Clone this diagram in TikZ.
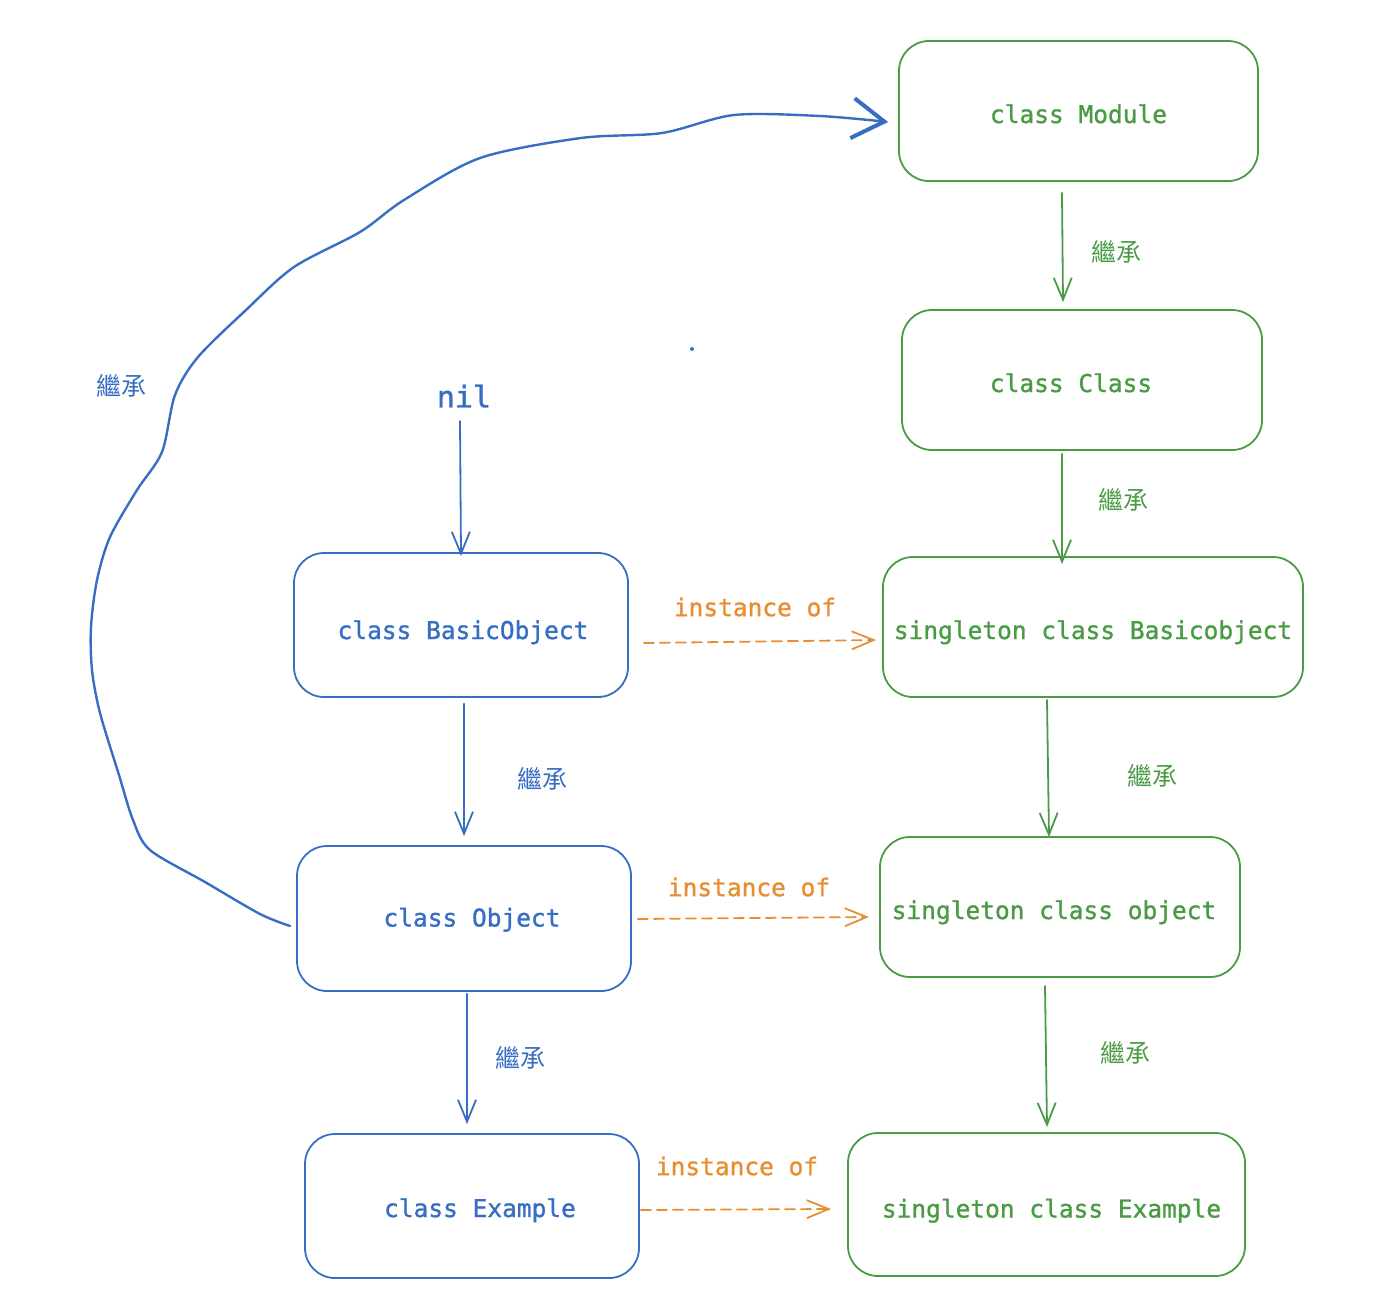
\documentclass[tikz,border=0pt]{standalone}
\usepackage{fontspec}
\newfontfamily\codefont{DejaVu Sans Mono}[FakeBold=1.2]
\newfontfamily\cjk{Noto Sans CJK TC}
\usetikzlibrary{arrows.meta,calc}
\definecolor{cblue}{RGB}{55,110,195}
\definecolor{cgreen}{RGB}{75,155,70}
\definecolor{corange}{RGB}{232,142,50}
% move a box caption sideways by #1 (positive = right)
\newcommand\nudge[2]{\ifdim#1pt>0pt\hspace*{#1pt}\hspace*{#1pt}#2\else#2\hspace*{-#1pt}\hspace*{-#1pt}\fi}
\begin{document}
\begin{tikzpicture}[x=1pt,y=-1pt,
  box/.style={draw, line width=1.8pt, rounded corners=30pt, inner sep=0pt,
    text height=24pt, text depth=0pt,
    font=\codefont\fontsize{24.5}{29}\selectfont},
  gbox/.style={box, cgreen},
  bbox/.style={box, cblue},
  tip/.style={line width=1.8pt, line cap=round, line join=round,
    -{Straight Barb[length=22pt,width=18pt]}},
  inh/.style={tip},
  inst/.style={tip, corange, dash pattern=on 10pt off 6pt},
  zh/.style={font=\cjk\fontsize{25}{30}\selectfont},
  en/.style={font=\codefont\fontsize{24.5}{29}\selectfont, corange}]
\useasboundingbox (0,0) rectangle (1384,1304);

% singleton side
\node[gbox, minimum width=359, minimum height=140] (mod) at (1078.5,111) {class Module};
\node[gbox, minimum width=360, minimum height=140] (cls) at (1082,380) {\nudge{-11}{class Class}};
\node[gbox, minimum width=420, minimum height=140] (sbo) at (1093,627) {singleton class Basicobject};
\node[gbox, minimum width=360, minimum height=140] (sob) at (1060,907) {\nudge{-6}{singleton class object}};
\node[gbox, minimum width=397, minimum height=143, text height=26pt] (sex) at (1046.5,1204.5) {\nudge{5}{singleton class Example}};

% class side
\node[cblue, font=\codefont\fontsize{30}{36}\selectfont] (nil) at (464,396) {nil};
\node[bbox, minimum width=334, minimum height=144, text height=28pt] (bo) at (461,625) {\nudge{2}{class BasicObject}};
\node[bbox, minimum width=334, minimum height=145, text height=16pt] (ob) at (464,918.5) {\nudge{8}{class Object}};
\node[bbox, minimum width=334, minimum height=144, text height=22pt] (ex) at (472,1206) {\nudge{8}{class Example}};

% inheritance on the singleton side
\draw[inh, cgreen] ($(mod.south)+(-16.5,11)$) -- ($(cls.north)+(-19,-7)$);
\draw[inh, cgreen] ($(cls.south)+(-20,3)$) -- ($(sbo.north)+(-31,8)$);
\draw[inh, cgreen] ($(sbo.south)+(-46,2)$) -- ($(sob.north)+(-11,1)$);
\draw[inh, cgreen] ($(sob.south)+(-15,8)$) -- ($(sex.north)+(0.5,-5)$);
\node[zh, cgreen] (g1) at (1116,252) {繼承};
\node[zh, cgreen] (g2) at (1123,500) {繼承};
\node[zh, cgreen] (g3) at (1152,776) {繼承};
\node[zh, cgreen] (g4) at (1125,1053) {繼承};

% inheritance on the class side
\draw[inh, cblue] ($(nil.south)+(-4,10)$) -- ($(bo.north)+(0,4)$);
\draw[inh, cblue] ($(bo.south)+(3,6)$) -- ($(ob.north)+(0,-9)$);
\draw[inh, cblue] ($(ob.south)+(3,2)$) -- ($(ex.north)+(-5,-9)$);
\node[zh, cblue] (b1) at (542,779) {繼承};
\node[zh, cblue] (b2) at (520,1058) {繼承};

% instance-of links
\draw[inst] ($(bo.east)+(15,18)$) -- ($(sbo.west)+(-6,13)$);
\draw[inst] ($(ob.east)+(6,0.5)$) -- ($(sob.west)+(-10,10)$);
\draw[inst] ($(ex.east)+(1,4)$) -- ($(sex.west)+(-16,4.5)$);
\node[en] (i1) at (755,607) {instance of};
\node[en] (i2) at (749,887) {instance of};
\node[en] (i3) at (737,1166) {instance of};

% Object inherits from Module
\coordinate (cs) at ($(ob.west)+(-6,7.5)$);
\coordinate (ce) at ($(mod.west)+(-10,11)$);
\draw[cblue, line width=2.4pt, line cap=round, line join=round,
  -{Straight Barb[length=32pt,width=40pt,line width=4pt]}]
  plot[smooth, tension=0.5] coordinates {(cs) (260,914) (205,882) (150,850)
    (133,820) (119,775) (100,713) (92,670) (91,627) (97,580) (110,537)
    (137,490) (162,452) (175,395) (198,357) (246,310) (294,267) (360,232)
    (404,200) (480,158) (581,138) (662,133) (734,115) (820,116) (ce)};
\node[zh, cblue] (b0) at (121,386) {繼承};

\fill[cblue] (692,349) circle (2);
\end{tikzpicture}
\end{document}
